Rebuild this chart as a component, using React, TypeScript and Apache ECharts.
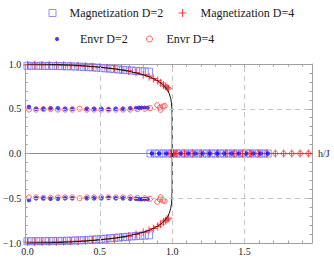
import React, { useEffect, useRef } from 'react';
import * as echarts from 'echarts';

// ---------- axes ----------
const X_MIN = -0.016;
const X_MAX = 1.966;
const Y_MIN = -1.0;
const Y_MAX = 1.0;
const xMajorTicks = [0, 0.5, 1.0, 1.5];
const xTickLabels = ['0.0', '0.5', '1.0', '1.5'];
const xMinorTicks = [0, 0.1, 0.2, 0.3, 0.4, 0.5, 0.6, 0.7, 0.8, 0.9, 1.0, 1.1, 1.2, 1.3, 1.4, 1.5, 1.6, 1.7, 1.8, 1.9];
const yMajorTicks = [-1.0, -0.5, 0, 0.5, 1.0];
const yTickLabels = ['−1.0', '−0.5', '0.0', '0.5', '1.0'];
const yMinorTicks = [-0.9, -0.8, -0.7, -0.6, -0.5, -0.4, -0.3, -0.2, -0.1, 0, 0.1, 0.2, 0.3, 0.4, 0.5, 0.6, 0.7, 0.8, 0.9];
const gridXValues = [0.5, 1.0, 1.5];
const gridYValues = [-0.5, 0.5];
const xAxisName = 'h/J';

// ---------- series names ----------
const NAME_MAG2 = 'Magnetization D=2';
const NAME_MAG4 = 'Magnetization D=4';
const NAME_ENV2 = 'Envr D=2';
const NAME_ENV4 = 'Envr D=4';

// ---------- Magnetization D=2 (blue squares), ordered branch (+ and mirrored −) ----------
const magD2H = [0.00, 0.03, 0.06, 0.09, 0.12, 0.15, 0.18, 0.21, 0.24, 0.27, 0.30, 0.33, 0.36, 0.39, 0.42, 0.45, 0.48, 0.51, 0.54, 0.57, 0.60, 0.63, 0.66, 0.69, 0.72, 0.75, 0.78, 0.81, 0.84];
const magD2M = [0.980, 0.980, 0.980, 0.979, 0.979, 0.978, 0.978, 0.977, 0.976, 0.975, 0.974, 0.972, 0.970, 0.968, 0.965, 0.962, 0.959, 0.955, 0.951, 0.947, 0.943, 0.939, 0.935, 0.931, 0.927, 0.923, 0.920, 0.917, 0.914];
// disordered (zero) branch
const magD2ZeroH = [0.85, 0.88, 0.91, 0.94, 0.97, 1.00, 1.03, 1.06, 1.09, 1.12, 1.15, 1.18, 1.21, 1.24, 1.27, 1.30, 1.33, 1.36, 1.39, 1.42, 1.45, 1.48, 1.51, 1.54, 1.57, 1.60, 1.63, 1.66];

// ---------- Magnetization D=4 (red plus) ----------
const magD4H = [0.00, 0.05, 0.10, 0.15, 0.20, 0.25, 0.30, 0.35, 0.40, 0.45, 0.50, 0.55, 0.60, 0.65, 0.70, 0.75, 0.80, 0.84, 0.87, 0.90, 0.92, 0.94, 0.955, 0.965, 0.975];
const magD4M = [0.990, 0.990, 0.989, 0.988, 0.986, 0.984, 0.981, 0.978, 0.974, 0.969, 0.963, 0.956, 0.948, 0.938, 0.925, 0.905, 0.880, 0.858, 0.838, 0.815, 0.790, 0.765, 0.750, 0.736, 0.722];
const magD4ZeroH = [0.99, 1.00, 1.01, 1.029, 1.086, 1.143, 1.20, 1.257, 1.314, 1.371, 1.428, 1.485, 1.542, 1.599, 1.656, 1.713, 1.77, 1.826, 1.884, 1.941];

// ---------- Envr D=2 (blue dots) ----------
const envD2H = [0.01, 0.06, 0.11, 0.16, 0.21, 0.26, 0.31, 0.41, 0.46, 0.51, 0.56, 0.61, 0.66, 0.71, 0.75, 0.77, 0.79, 0.81, 0.83];
const envD2V = [0.52, 0.50, 0.50, 0.505, 0.505, 0.50, 0.50, 0.50, 0.50, 0.50, 0.495, 0.50, 0.50, 0.505, 0.505, 0.51, 0.51, 0.51, 0.51];
const envD2ZeroH = [0.86, 0.91, 0.96, 1.01, 1.06, 1.11, 1.16, 1.21, 1.26, 1.31, 1.36, 1.41, 1.46, 1.51, 1.56, 1.61, 1.66];

// ---------- Envr D=4 (red open circles) ----------
const envD4H = [0.01, 0.06, 0.11, 0.16, 0.21, 0.26, 0.31, 0.36, 0.41, 0.46, 0.51, 0.56, 0.61, 0.66, 0.71, 0.76, 0.81, 0.847, 0.897, 0.915, 0.92, 0.936, 0.948];
const envD4V = [0.49, 0.49, 0.495, 0.495, 0.49, 0.49, 0.49, 0.50, 0.49, 0.49, 0.49, 0.49, 0.49, 0.49, 0.49, 0.495, 0.50, 0.507, 0.54, 0.514, 0.488, 0.525, 0.533];
const envD4ZeroH = [0.99, 1.00, 1.01, 1.029, 1.086, 1.143, 1.20, 1.257, 1.314, 1.371, 1.428, 1.485, 1.542, 1.599, 1.656, 1.713, 1.77, 1.826, 1.884, 1.941];

// ---------- exact curve (black line) ----------
const curveH = [0, 0.1, 0.2, 0.3, 0.4, 0.5, 0.6, 0.7, 0.8, 0.85, 0.9, 0.93, 0.95, 0.97, 0.98, 0.99, 0.995, 0.998, 0.9995, 1.0];
const curveM = [1.0, 0.9987, 0.9949, 0.9883, 0.9784, 0.9647, 0.9457, 0.9193, 0.8801, 0.8519, 0.8125, 0.7786, 0.7475, 0.7022, 0.6679, 0.6129, 0.5622, 0.5014, 0.4217, 0.0];

// ---------- colours ----------
const C_SQUARE = '#7474ff';
const C_PLUS = '#ff1a1a';
const C_DOT = '#0a0aff';
const C_CIRCLE = '#ff3a3a';
const C_FRAME = '#a0a0a0';
const C_ZERO = '#8a8a8a';
const C_GRID = '#c4c4c4';
const C_TEXT = '#1a1a1a';
const FONT = 'Liberation Serif';

const PLUS_PATH = 'path://M5,0L5,10M0,5L10,5';
const SQUARE_PATH = 'path://M0,0L10,0L10,10L0,10Z';

function branch(h: number[], v: number[]): number[][] {
  const up = h.map((x, i) => [x, v[i]]);
  const down = h.map((x, i) => [x, -v[i]]);
  return up.concat(down);
}
function zeroLine(h: number[]): number[][] {
  return h.map((x) => [x, 0]);
}

function xAxisCfg(position: 'top' | 'bottom', ticks: number[], len: number, showLine: boolean, labels: boolean): any {
  return {
    type: 'value',
    min: X_MIN,
    max: X_MAX,
    position,
    axisLine: { show: showLine, onZero: false, lineStyle: { color: C_FRAME, width: 1 } },
    axisTick: { show: true, inside: true, length: len, customValues: ticks, lineStyle: { color: C_FRAME, width: 1 } },
    axisLabel: labels
      ? {
          show: true,
          customValues: xMajorTicks,
          formatter: (v: number) => xTickLabels[xMajorTicks.findIndex((t) => Math.abs(t - v) < 1e-9)] ?? '',
          fontFamily: FONT,
          fontSize: 10,
          color: C_TEXT,
          margin: 3,
        }
      : { show: false },
    splitLine: { show: false },
  };
}

function yAxisCfg(position: 'left' | 'right', ticks: number[], len: number, showLine: boolean, labels: boolean): any {
  return {
    type: 'value',
    min: Y_MIN,
    max: Y_MAX,
    position,
    axisLine: { show: showLine, onZero: false, lineStyle: { color: C_FRAME, width: 1 } },
    axisTick: { show: true, inside: true, length: len, customValues: ticks, lineStyle: { color: C_FRAME, width: 1 } },
    axisLabel: labels
      ? {
          show: true,
          customValues: yMajorTicks,
          formatter: (v: number) => yTickLabels[yMajorTicks.findIndex((t) => Math.abs(t - v) < 1e-9)] ?? '',
          fontFamily: FONT,
          fontSize: 10,
          color: C_TEXT,
          margin: 4,
        }
      : { show: false },
    splitLine: { show: false },
  };
}

function legendCfg(name: string, icon: string, left: number, top: number, w: number, h: number, itemStyle: any): any {
  return {
    data: [{ name, icon }],
    left,
    top,
    padding: 0,
    itemWidth: w,
    itemHeight: h,
    selectedMode: false,
    itemStyle,
    textStyle: { fontFamily: FONT, fontSize: 12, color: C_TEXT, padding: 0 },
  };
}

export default function App() {
  const ref = useRef<HTMLDivElement>(null);
  useEffect(() => {
    if (!ref.current) return;
    const chart = echarts.init(ref.current, undefined, { renderer: 'svg' });

    const curveData = curveH.map((x, i) => [x, curveM[i]]).concat(
      curveH.slice().reverse().map((x, i) => [x, -curveM[curveM.length - 1 - i]])
    );

    const option: any = {
      animation: false,
      backgroundColor: '#ffffff',
      grid: { left: 24, right: 22, top: 64, bottom: 15, containLabel: false },
      legend: [
        legendCfg(NAME_MAG2, SQUARE_PATH, 48.5, 7, 24, 7, { color: 'transparent', borderColor: C_SQUARE, borderWidth: 1 }),
        legendCfg(NAME_MAG4, PLUS_PATH, 178, 7, 26, 8, { color: 'transparent', borderColor: C_PLUS, borderWidth: 1 }),
        legendCfg(NAME_ENV2, 'circle', 55, 33, 36, 4, { color: C_DOT, borderWidth: 0 }),
        legendCfg(NAME_ENV4, 'circle', 146, 33, 24, 6, { color: 'transparent', borderColor: C_CIRCLE, borderWidth: 1 }),
      ],
      xAxis: [
        xAxisCfg('bottom', xMajorTicks, 5, true, true),
        xAxisCfg('bottom', xMinorTicks, 2.5, false, false),
        xAxisCfg('top', xMajorTicks, 5, true, false),
        xAxisCfg('top', xMinorTicks, 2.5, false, false),
        {
          type: 'value',
          min: X_MIN,
          max: X_MAX,
          position: 'bottom',
          axisLine: { show: true, onZero: true, onZeroAxisIndex: 0, lineStyle: { color: C_ZERO, width: 1 } },
          axisTick: { show: false },
          axisLabel: { show: false },
          splitLine: { show: false },
          name: xAxisName,
          nameLocation: 'end',
          nameGap: 6,
          nameTextStyle: { fontFamily: FONT, fontSize: 10, color: C_TEXT },
        },
      ],
      yAxis: [
        yAxisCfg('left', yMajorTicks, 5, true, true),
        yAxisCfg('left', yMinorTicks, 2.5, false, false),
        yAxisCfg('right', yMajorTicks, 5, true, false),
        yAxisCfg('right', yMinorTicks, 2.5, false, false),
      ],
      series: [
        {
          name: NAME_MAG2,
          type: 'scatter',
          symbol: SQUARE_PATH,
          symbolSize: 7,
          itemStyle: { color: 'transparent', borderColor: C_SQUARE, borderWidth: 1 },
          data: branch(magD2H, magD2M).concat(zeroLine(magD2ZeroH)),
          markLine: {
            silent: true,
            symbol: 'none',
            label: { show: false },
            lineStyle: { color: C_GRID, type: [5, 4], width: 1 },
            data: gridXValues.map((v) => ({ xAxis: v })).concat(gridYValues.map((v) => ({ yAxis: v })) as any),
          },
        },
        {
          name: NAME_MAG4,
          type: 'scatter',
          symbol: PLUS_PATH,
          symbolSize: 8,
          itemStyle: { color: 'transparent', borderColor: C_PLUS, borderWidth: 1 },
          data: branch(magD4H, magD4M).concat(zeroLine(magD4ZeroH)),
        },
        {
          name: NAME_ENV2,
          type: 'scatter',
          symbol: 'circle',
          symbolSize: 4.5,
          itemStyle: { color: C_DOT },
          data: branch(envD2H, envD2V).concat(zeroLine(envD2ZeroH)),
        },
        {
          name: NAME_ENV4,
          type: 'scatter',
          symbol: 'circle',
          symbolSize: 5,
          itemStyle: { color: 'transparent', borderColor: C_CIRCLE, borderWidth: 1 },
          data: branch(envD4H, envD4V).concat(zeroLine(envD4ZeroH)),
        },
        {
          name: 'exact',
          type: 'line',
          showSymbol: false,
          symbol: 'none',
          lineStyle: { color: '#111111', width: 1 },
          data: curveData,
          z: 3,
        },
      ],
    };
    chart.setOption(option);
    return () => chart.dispose();
  }, []);
  return <div ref={ref} style={{ position: 'absolute', left: 0, top: 0, width: 334, height: 258 }} />;
}
